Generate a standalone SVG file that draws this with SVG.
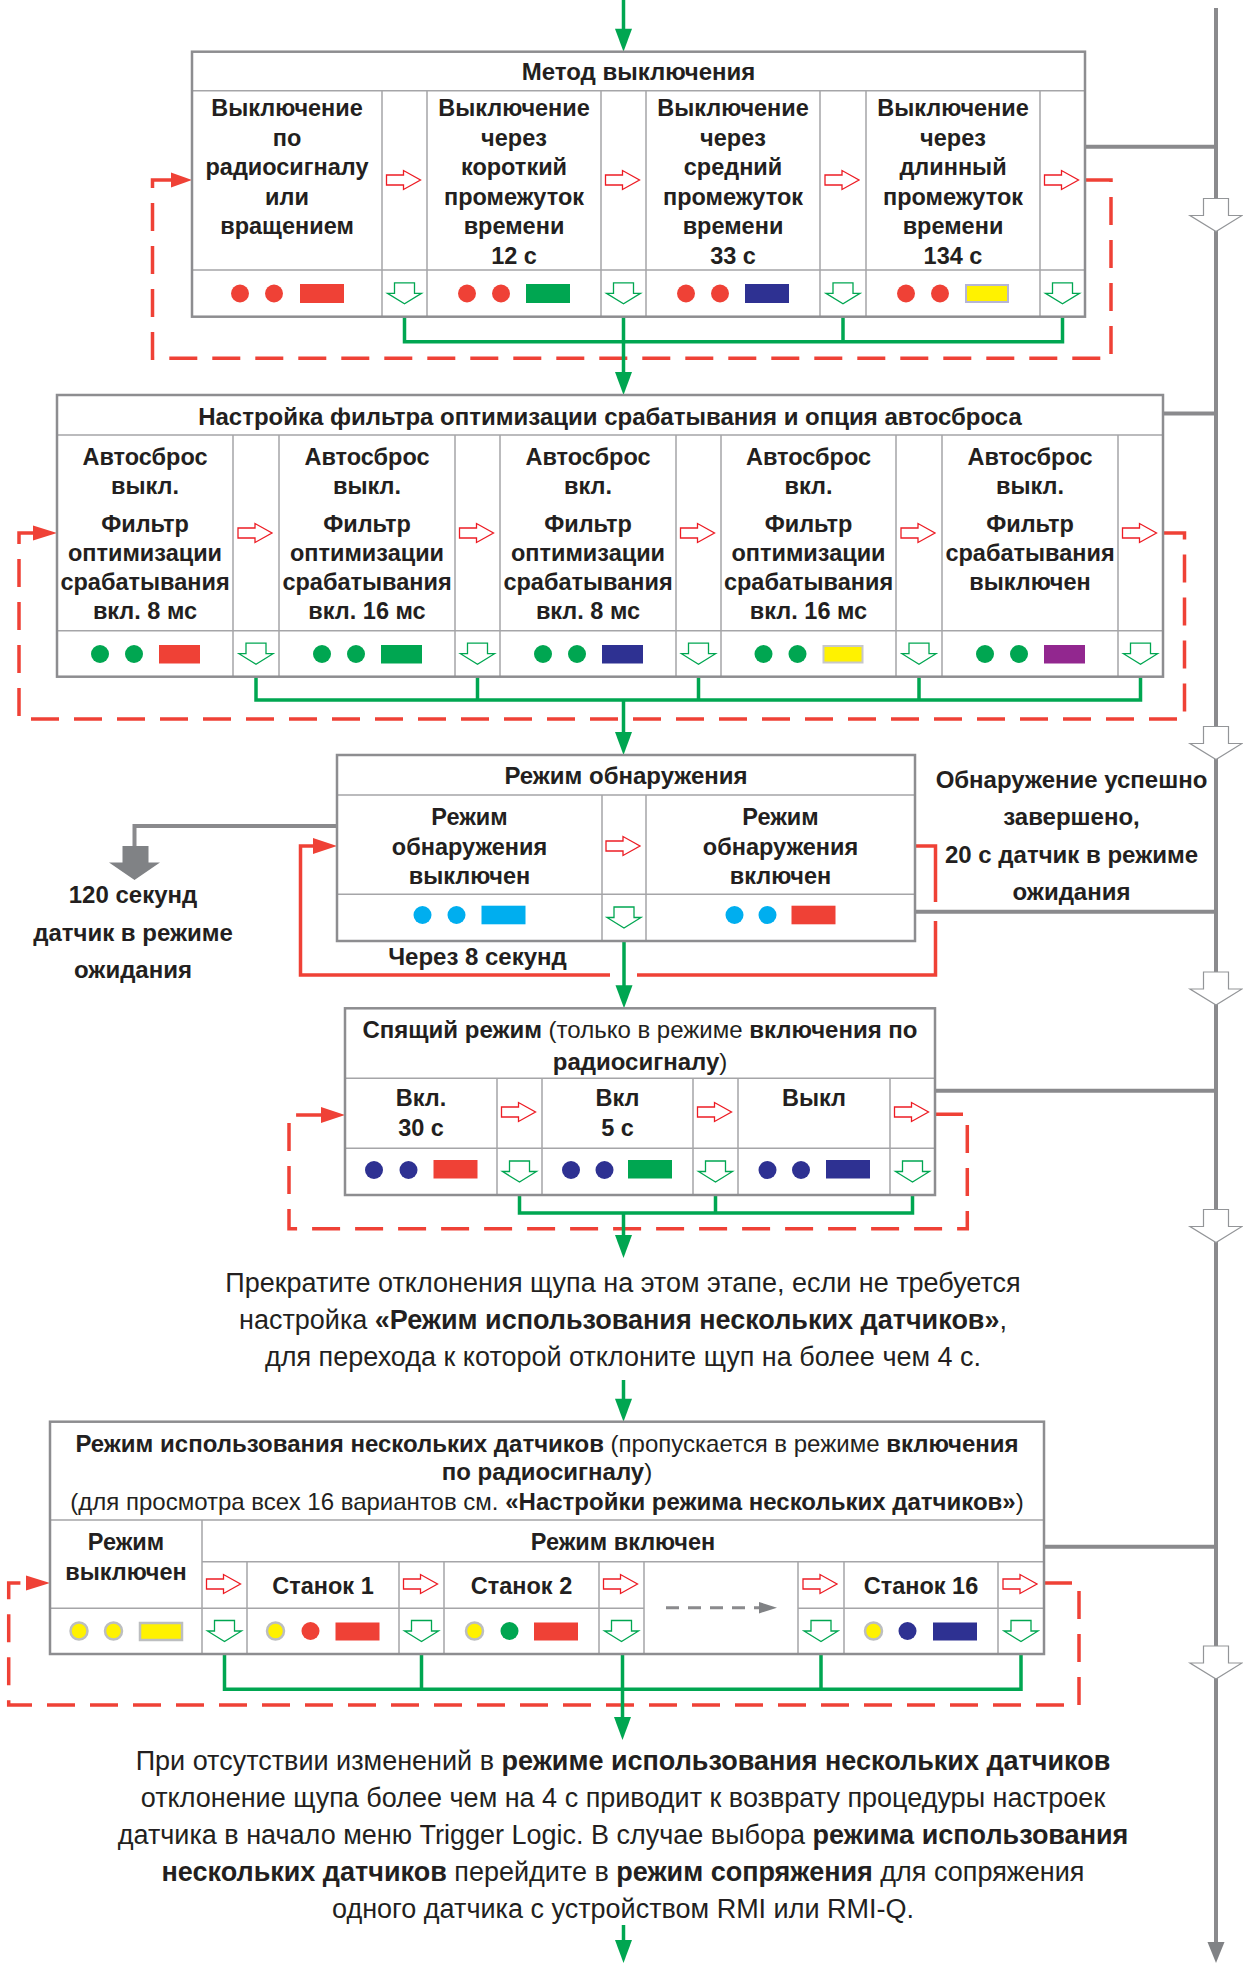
<svg xmlns="http://www.w3.org/2000/svg" width="1243" height="1964" viewBox="0 0 1243 1964">
<style>
text{font-family:"Liberation Sans",Arial,Helvetica,sans-serif;fill:#231f20;text-anchor:middle}
.b{font-weight:bold}
.c{font-size:23.5px;font-weight:bold}
.h{font-size:24px;font-weight:bold}
.s{font-size:24px}
.p{font-size:27px}
.bg{fill:#fff}
.frame{fill:none;stroke:#8d8d90;stroke-width:2.5}
.grid{fill:none;stroke:#a5a5a8;stroke-width:1.5}
.ra{fill:#fff;stroke:#ed1c24;stroke-width:1.3}
.ga{fill:#fff;stroke:#00a651;stroke-width:1.3}
.ha{fill:#fff;stroke:#939598;stroke-width:1.2}
.gl{fill:none;stroke:#00a651;stroke-width:3.5}
.gh{fill:#00a651}
.rl{fill:none;stroke:#ef4136;stroke-width:3.5}
.rd{fill:none;stroke:#ef4136;stroke-width:3.5;stroke-dasharray:28 15}
.rh{fill:#ef4136}
.gy{fill:none;stroke:#8a8a8d;stroke-width:4}
.gyf{fill:#808285}
.R{fill:#ef4136}.G{fill:#00a651}.B{fill:#2e3192}.P{fill:#92278f}.C{fill:#00aeef}
.Y1{fill:#fff200;stroke:#b5b5d6;stroke-width:2}
.Y2{fill:#fff200;stroke:#c7c8ca;stroke-width:2}
.Y{fill:#fff200;stroke:#bcbec0;stroke-width:2.5}
.dash{fill:none;stroke:#8a8a8d;stroke-width:3;stroke-dasharray:13 9}
</style>
<defs>
<path id="ra" d="M-17,-5H0V-9.5L17,0L0,9.5V5H-17Z"/>
<path id="ga" d="M-10,0H10V10.5H17L0,21L-17,10.5H-10Z"/>
<path id="ha" d="M-12.5,0H12.5V17H26L0,33L-26,17H-12.5Z"/>
</defs>

<g id="connectors">
<path class="gy" d="M1216,8V1945"/>
<polygon class="gyf" points="1207.5,1942 1224.5,1942 1216,1963"/>
<path class="gy" d="M1085,146.7H1216M1163,413.5H1216M915,911.7H1216M935,1090.7H1216M1044,1546.7H1216"/>
<use href="#ha" class="ha" x="1216" y="198.5"/>
<use href="#ha" class="ha" x="1216" y="726.5"/>
<use href="#ha" class="ha" x="1216" y="972"/>
<use href="#ha" class="ha" x="1216" y="1209.5"/>
<use href="#ha" class="ha" x="1216" y="1646"/>
<path class="gy" d="M337,826H134.5V848"/>
<path class="gyf" d="M122.5,846H148.5V862.5H160L134.5,880L109,862.5H122.5Z"/>

<path class="rd" d="M1085,180H1111V358.3H152.5V180H172"/>
<polygon class="rh" points="171,172.5 192,180 171,187.5"/>
<path class="rd" d="M1163,533H1184.5V719H19V533H34"/>
<polygon class="rh" points="33,525.5 57,533 33,540.5"/>
<path class="rl" d="M915,846H935.5V902M935.5,921V975H637M610,975H300.5V846H314"/>
<polygon class="rh" points="313,838 337,846 313,854"/>
<path class="rd" d="M935,1114.3H967.3V1228.8H289V1115H322"/>
<polygon class="rh" points="321,1107 345,1115 321,1123"/>
<path class="rd" d="M1044,1583H1079V1705H8.7V1583H27"/>
<polygon class="rh" points="26,1575.5 50,1583 26,1590.5"/>

<path class="gl" d="M623.5,0V30"/>
<polygon class="gh" points="615,28.7 632,28.7 623.5,51.7"/>
<path class="gl" d="M404.5,316.7V341.7H1062.5V316.7M623.5,316.7V374M843,316.7V341.7"/>
<polygon class="gh" points="615,372 632,372 623.5,395"/>
<path class="gl" d="M256,676.7V700H1140.5V676.7M477.5,676.7V700M698.5,676.7V700M919,676.7V700M623.5,700V734"/>
<polygon class="gh" points="615,732 632,732 623.5,755"/>
<path class="gl" d="M624,941V987"/>
<polygon class="gh" points="615.5,985.3 632.5,985.3 624,1008.3"/>
<path class="gl" d="M519.5,1195V1213H912.5V1195M715.5,1195V1213M623.5,1213V1237"/>
<polygon class="gh" points="615,1235 632,1235 623.5,1258"/>
<path class="gl" d="M623.5,1380V1400"/>
<polygon class="gh" points="615,1398.7 632,1398.7 623.5,1421.7"/>
<path class="gl" d="M224.5,1654V1689.3H1021V1654M421.5,1654V1689.3M821,1654V1689.3M622.5,1654V1719"/>
<polygon class="gh" points="614,1717 631,1717 622.5,1740"/>
<path class="gl" d="M623.5,1925V1942"/>
<polygon class="gh" points="615,1940 632,1940 623.5,1963"/>
</g>

<g id="n1">
<rect class="bg" x="192" y="51.7" width="893" height="265"/>
<path class="grid" d="M192,90.7H1085M192,270H1085M382,90.7V316.7M427,90.7V316.7M601,90.7V316.7M646,90.7V316.7M820,90.7V316.7M866,90.7V316.7M1040,90.7V316.7"/>
<rect class="frame" x="192" y="51.7" width="893" height="265"/>
<text class="h" x="638.5" y="80">Метод выключения</text>
<text class="c" x="287"><tspan x="287" y="116">Выключение</tspan><tspan x="287" y="145.5">по</tspan><tspan x="287" y="175">радиосигналу</tspan><tspan x="287" y="204.5">или</tspan><tspan x="287" y="234">вращением</tspan></text>
<text class="c" x="514"><tspan x="514" y="116">Выключение</tspan><tspan x="514" y="145.5">через</tspan><tspan x="514" y="175">короткий</tspan><tspan x="514" y="204.5">промежуток</tspan><tspan x="514" y="234">времени</tspan><tspan x="514" y="263.5">12 с</tspan></text>
<text class="c" x="733"><tspan x="733" y="116">Выключение</tspan><tspan x="733" y="145.5">через</tspan><tspan x="733" y="175">средний</tspan><tspan x="733" y="204.5">промежуток</tspan><tspan x="733" y="234">времени</tspan><tspan x="733" y="263.5">33 с</tspan></text>
<text class="c" x="953"><tspan x="953" y="116">Выключение</tspan><tspan x="953" y="145.5">через</tspan><tspan x="953" y="175">длинный</tspan><tspan x="953" y="204.5">промежуток</tspan><tspan x="953" y="234">времени</tspan><tspan x="953" y="263.5">134 с</tspan></text>
<use href="#ra" class="ra" x="403.5" y="180"/><use href="#ra" class="ra" x="622.5" y="180"/><use href="#ra" class="ra" x="842" y="180"/><use href="#ra" class="ra" x="1061.5" y="180"/>
<use href="#ga" class="ga" x="404.5" y="282.8"/><use href="#ga" class="ga" x="623.5" y="282.8"/><use href="#ga" class="ga" x="843" y="282.8"/><use href="#ga" class="ga" x="1062.5" y="282.8"/>
<circle class="R" cx="240" cy="293.5" r="9"/><circle class="R" cx="274" cy="293.5" r="9"/><rect class="R" x="300" y="284" width="44" height="19"/>
<circle class="R" cx="467" cy="293.5" r="9"/><circle class="R" cx="501" cy="293.5" r="9"/><rect class="G" x="526" y="284" width="44" height="19"/>
<circle class="R" cx="686" cy="293.5" r="9"/><circle class="R" cx="720" cy="293.5" r="9"/><rect class="B" x="745" y="284" width="44" height="19"/>
<circle class="R" cx="906" cy="293.5" r="9"/><circle class="R" cx="940" cy="293.5" r="9"/><rect class="Y1" x="966" y="285" width="42" height="17"/>
</g>

<g id="n2">
<rect class="bg" x="57" y="395" width="1106" height="281.7"/>
<path class="grid" d="M57,435H1163M57,630.7H1163M233,435V676.7M279,435V676.7M455,435V676.7M500,435V676.7M676,435V676.7M721,435V676.7M896,435V676.7M942,435V676.7M1118,435V676.7"/>
<rect class="frame" x="57" y="395" width="1106" height="281.7"/>
<text class="h" x="610" y="425">Настройка фильтра оптимизации срабатывания и опция автосброса</text>
<text class="c"><tspan x="145" y="465">Автосброс</tspan><tspan x="145" y="494">выкл.</tspan><tspan x="145" y="531.5">Фильтр</tspan><tspan x="145" y="561">оптимизации</tspan><tspan x="145" y="590">срабатывания</tspan><tspan x="145" y="619">вкл. 8 мс</tspan></text>
<text class="c"><tspan x="367" y="465">Автосброс</tspan><tspan x="367" y="494">выкл.</tspan><tspan x="367" y="531.5">Фильтр</tspan><tspan x="367" y="561">оптимизации</tspan><tspan x="367" y="590">срабатывания</tspan><tspan x="367" y="619">вкл. 16 мс</tspan></text>
<text class="c"><tspan x="588" y="465">Автосброс</tspan><tspan x="588" y="494">вкл.</tspan><tspan x="588" y="531.5">Фильтр</tspan><tspan x="588" y="561">оптимизации</tspan><tspan x="588" y="590">срабатывания</tspan><tspan x="588" y="619">вкл. 8 мс</tspan></text>
<text class="c"><tspan x="808.5" y="465">Автосброс</tspan><tspan x="808.5" y="494">вкл.</tspan><tspan x="808.5" y="531.5">Фильтр</tspan><tspan x="808.5" y="561">оптимизации</tspan><tspan x="808.5" y="590">срабатывания</tspan><tspan x="808.5" y="619">вкл. 16 мс</tspan></text>
<text class="c"><tspan x="1030" y="465">Автосброс</tspan><tspan x="1030" y="494">выкл.</tspan><tspan x="1030" y="531.5">Фильтр</tspan><tspan x="1030" y="561">срабатывания</tspan><tspan x="1030" y="590">выключен</tspan></text>
<use href="#ra" class="ra" x="255" y="533"/><use href="#ra" class="ra" x="476.5" y="533"/><use href="#ra" class="ra" x="697.5" y="533"/><use href="#ra" class="ra" x="918" y="533"/><use href="#ra" class="ra" x="1139.5" y="533"/>
<use href="#ga" class="ga" x="256" y="643.2"/><use href="#ga" class="ga" x="477.5" y="643.2"/><use href="#ga" class="ga" x="698.5" y="643.2"/><use href="#ga" class="ga" x="919" y="643.2"/><use href="#ga" class="ga" x="1140.5" y="643.2"/>
<circle class="G" cx="100" cy="654" r="9"/><circle class="G" cx="134" cy="654" r="9"/><rect class="R" x="159" y="645" width="41" height="18.5"/>
<circle class="G" cx="322" cy="654" r="9"/><circle class="G" cx="356" cy="654" r="9"/><rect class="G" x="381" y="645" width="41" height="18.5"/>
<circle class="G" cx="543" cy="654" r="9"/><circle class="G" cx="577" cy="654" r="9"/><rect class="B" x="602" y="645" width="41" height="18.5"/>
<circle class="G" cx="763.5" cy="654" r="9"/><circle class="G" cx="797.5" cy="654" r="9"/><rect class="Y2" x="823.5" y="646" width="39" height="16.5"/>
<circle class="G" cx="985" cy="654" r="9"/><circle class="G" cx="1019" cy="654" r="9"/><rect class="P" x="1044" y="645" width="41" height="18.5"/>
</g>

<g id="n3">
<rect class="bg" x="337" y="755" width="578" height="186"/>
<path class="grid" d="M337,795H915M337,894.3H915M602,795V941M646,795V941"/>
<rect class="frame" x="337" y="755" width="578" height="186"/>
<text class="h" x="626" y="784">Режим обнаружения</text>
<text class="c"><tspan x="469.5" y="825">Режим</tspan><tspan x="469.5" y="855">обнаружения</tspan><tspan x="469.5" y="884">выключен</tspan></text>
<text class="c"><tspan x="780.5" y="825">Режим</tspan><tspan x="780.5" y="855">обнаружения</tspan><tspan x="780.5" y="884">включен</tspan></text>
<use href="#ra" class="ra" x="623" y="846"/>
<use href="#ga" class="ga" x="624" y="907"/>
<circle class="C" cx="422.5" cy="915" r="9"/><circle class="C" cx="456.5" cy="915" r="9"/><rect class="C" x="481.5" y="905.7" width="44" height="18.6"/>
<circle class="C" cx="734.5" cy="915" r="9"/><circle class="C" cx="767.5" cy="915" r="9"/><rect class="R" x="791.5" y="905.7" width="44" height="18.6"/>
</g>

<g id="t-standby120">
<text class="h"><tspan x="133" y="903">120 секунд</tspan><tspan x="133" y="941">датчик в режиме</tspan><tspan x="133" y="977.5">ожидания</tspan></text>
</g>
<g id="t-after8">
<text class="h" x="477.5" y="965">Через 8 секунд</text>
</g>
<g id="t-success">
<text class="h"><tspan x="1071.5" y="787.5">Обнаружение успешно</tspan><tspan x="1071.5" y="825">завершено,</tspan><tspan x="1071.5" y="862.5">20 с датчик в режиме</tspan><tspan x="1071.5" y="900">ожидания</tspan></text>
</g>

<g id="n4">
<rect class="bg" x="345" y="1008.3" width="590" height="186.7"/>
<path class="grid" d="M345,1078.3H935M345,1148.3H935M497,1078.3V1195M542,1078.3V1195M693,1078.3V1195M738,1078.3V1195M890,1078.3V1195"/>
<rect class="frame" x="345" y="1008.3" width="590" height="186.7"/>
<text class="s" x="640" y="1038"><tspan class="b">Спящий режим</tspan> (только в режиме <tspan class="b">включения по</tspan></text>
<text class="s" x="640" y="1070"><tspan class="b">радиосигналу</tspan>)</text>
<text class="c"><tspan x="421" y="1106">Вкл.</tspan><tspan x="421" y="1136">30 с</tspan></text>
<text class="c"><tspan x="617.5" y="1106">Вкл</tspan><tspan x="617.5" y="1136">5 с</tspan></text>
<text class="c" x="814" y="1106">Выкл</text>
<use href="#ra" class="ra" x="518.5" y="1112"/><use href="#ra" class="ra" x="714.5" y="1112"/><use href="#ra" class="ra" x="911.5" y="1112"/>
<use href="#ga" class="ga" x="519.5" y="1161"/><use href="#ga" class="ga" x="715.5" y="1161"/><use href="#ga" class="ga" x="912.5" y="1161"/>
<circle class="B" cx="374" cy="1170" r="9"/><circle class="B" cx="408.5" cy="1170" r="9"/><rect class="R" x="433.5" y="1160" width="44" height="18.5"/>
<circle class="B" cx="571" cy="1170" r="9"/><circle class="B" cx="604.5" cy="1170" r="9"/><rect class="G" x="628" y="1160" width="44" height="18.5"/>
<circle class="B" cx="767.5" cy="1170" r="9"/><circle class="B" cx="801" cy="1170" r="9"/><rect class="B" x="826" y="1160" width="44" height="18.5"/>
</g>

<g id="t-note1">
<text class="p" x="623" y="1291.5">Прекратите отклонения щупа на этом этапе, если не требуется</text>
<text class="p" x="623" y="1328.5">настройка <tspan class="b">«Режим использования нескольких датчиков»</tspan>,</text>
<text class="p" x="623" y="1365.5">для перехода к которой отклоните щуп на более чем 4 с.</text>
</g>

<g id="n5">
<rect class="bg" x="50" y="1421.7" width="994" height="232.3"/>
<path class="grid" d="M50,1520H1044M202,1561.7H1044M50,1608.3H644M798,1608.3H1044M202,1520V1654M247,1561.7V1654M399,1561.7V1654M444,1561.7V1654M599,1561.7V1654M644,1561.7V1654M798,1561.7V1654M844,1561.7V1654M998,1561.7V1654"/>
<rect class="frame" x="50" y="1421.7" width="994" height="232.3"/>
<text class="s" x="547" y="1452"><tspan class="b">Режим использования нескольких датчиков</tspan> (пропускается в режиме <tspan class="b">включения</tspan></text>
<text class="s" x="547" y="1480"><tspan class="b">по радиосигналу</tspan>)</text>
<text class="s" x="547" y="1510">(для просмотра всех 16 вариантов см. <tspan class="b">«Настройки режима нескольких датчиков»</tspan>)</text>
<text class="c"><tspan x="126" y="1550">Режим</tspan><tspan x="126" y="1580">выключен</tspan></text>
<text class="c" x="623" y="1550">Режим включен</text>
<text class="c" x="323" y="1593.5">Станок 1</text>
<text class="c" x="521.5" y="1593.5">Станок 2</text>
<text class="c" x="921" y="1593.5">Станок 16</text>
<path class="dash" d="M666,1607.7H760"/>
<polygon class="gyf" points="759,1602 777,1607.7 759,1613.4"/>
<use href="#ra" class="ra" x="223.5" y="1584"/><use href="#ra" class="ra" x="420.5" y="1584"/><use href="#ra" class="ra" x="620.5" y="1584"/><use href="#ra" class="ra" x="820" y="1584"/><use href="#ra" class="ra" x="1020" y="1584"/>
<use href="#ga" class="ga" x="224.5" y="1620.5"/><use href="#ga" class="ga" x="421.5" y="1620.5"/><use href="#ga" class="ga" x="621.5" y="1620.5"/><use href="#ga" class="ga" x="821" y="1620.5"/><use href="#ga" class="ga" x="1021" y="1620.5"/>
<circle class="Y" cx="79" cy="1631" r="8.5"/><circle class="Y" cx="113.5" cy="1631" r="8.5"/><rect class="Y" x="140" y="1623" width="42" height="17"/>
<circle class="Y" cx="275.5" cy="1631" r="8.5"/><circle class="R" cx="310.5" cy="1631" r="9"/><rect class="R" x="335.5" y="1622.5" width="44" height="18"/>
<circle class="Y" cx="474.5" cy="1631" r="8.5"/><circle class="G" cx="509.5" cy="1631" r="9"/><rect class="R" x="534" y="1622.5" width="44" height="18"/>
<circle class="Y" cx="873.5" cy="1631" r="8.5"/><circle class="B" cx="907.5" cy="1631" r="9"/><rect class="B" x="933" y="1622.5" width="44" height="18"/>
</g>

<g id="t-note2">
<text class="p" x="623" y="1769.5">При отсутствии изменений в <tspan class="b">режиме использования нескольких датчиков</tspan></text>
<text class="p" x="623" y="1807">отклонение щупа более чем на 4 с приводит к возврату процедуры настроек</text>
<text class="p" x="623" y="1843.5">датчика в начало меню Trigger Logic. В случае выбора <tspan class="b">режима использования</tspan></text>
<text class="p" x="623" y="1881"><tspan class="b">нескольких датчиков</tspan> перейдите в <tspan class="b">режим сопряжения</tspan> для сопряжения</text>
<text class="p" x="623" y="1918">одного датчика с устройством RMI или RMI-Q.</text>
</g>
</svg>
